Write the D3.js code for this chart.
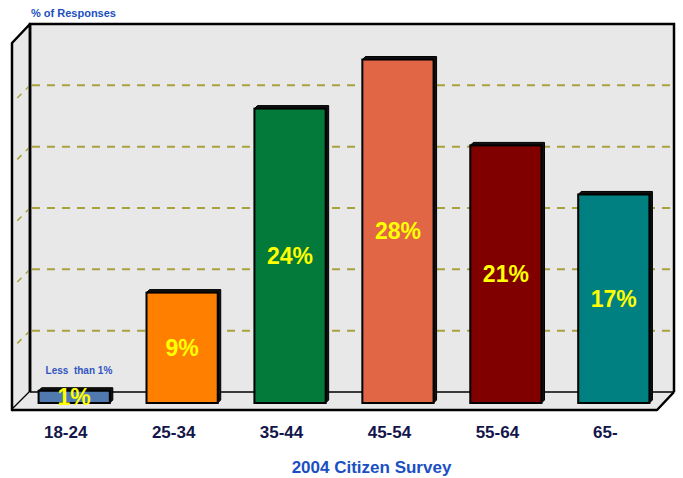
<!DOCTYPE html>
<html>
<head>
<meta charset="utf-8">
<script src="https://cdn.jsdelivr.net/npm/d3@7"></script>
<style>
  html, body { margin: 0; padding: 0; background: #ffffff; }
  svg { display: block; }
  text { font-family: "Liberation Sans", Arial, sans-serif; font-weight: bold; }
</style>
</head>
<body>
<svg id="chart" width="683" height="478"></svg>
<script>
const categories = ["18-24", "25-34", "35-44", "45-54", "55-64", "65-"];
const values = [1, 9, 24, 28, 21, 17];
const valueLabels = ["1%", "9%", "24%", "28%", "21%", "17%"];
const barColors = ["#5079b0", "#ff8000", "#047a3a", "#e06646", "#800000", "#008080"];
const yTicks = [5, 10, 15, 20, 25];
const yDomain = [0, 30];
const yAxisTitle = "% of Responses";
const xAxisTitle = "2004 Citizen Survey";
const noteText = "Less  than 1%";

const svg = d3.select("#chart");

// geometry
const wallLeft = 30, wallRight = 674, wallTop = 24, wallBottom = 392;
const depth = 18;       // box depth offset
const barShift = 11;    // bars sit partly in front of back wall

const y = d3.scaleLinear().domain(yDomain).range([wallBottom, wallTop]);
const x = d3.scaleBand().domain(categories).range([17, 671]).paddingInner(0.34).paddingOuter(0.2);

const wallFill = "#e8e8e8";
const gridColor = "#a8a23c";

// back wall
svg.append("rect")
  .attr("x", wallLeft).attr("y", wallTop)
  .attr("width", wallRight - wallLeft).attr("height", wallBottom - wallTop)
  .attr("fill", wallFill);

// left side wall
svg.append("polygon")
  .attr("points", [[wallLeft - depth, wallTop + depth + 1], [wallLeft, wallTop], [wallLeft, wallBottom], [wallLeft - depth, wallBottom + depth]].map(p => p.join(",")).join(" "))
  .attr("fill", wallFill).attr("stroke", "#000").attr("stroke-width", 2.5).attr("stroke-linejoin", "round");

// floor
svg.append("polygon")
  .attr("points", [[wallLeft - depth, wallBottom + depth], [wallLeft, wallBottom], [wallRight, wallBottom], [wallRight - depth + 1, wallBottom + depth]].map(p => p.join(",")).join(" "))
  .attr("fill", wallFill);

// gridlines on back wall
svg.append("g").selectAll("line").data(yTicks).join("line")
  .attr("x1", wallLeft + 2).attr("x2", wallRight - 4)
  .attr("y1", d => y(d)).attr("y2", d => y(d))
  .attr("stroke", gridColor).attr("stroke-width", 2).attr("stroke-dasharray", "8,7");

// gridlines on side wall
svg.append("g").selectAll("line").data(yTicks).join("line")
  .attr("x1", wallLeft).attr("x2", wallLeft - depth + 2)
  .attr("y1", d => y(d)).attr("y2", d => y(d) + depth - 2)
  .attr("stroke", gridColor).attr("stroke-width", 1.5).attr("stroke-dasharray", "6,6");

// wall borders
svg.append("path")
  .attr("d", `M${wallLeft},${wallBottom}V${wallTop}H${wallRight}V${wallBottom}`)
  .attr("fill", "none").attr("stroke", "#000").attr("stroke-width", 2.5);
svg.append("line")
  .attr("x1", wallLeft).attr("x2", wallRight).attr("y1", wallBottom).attr("y2", wallBottom)
  .attr("stroke", "#000").attr("stroke-width", 1.5);
// floor front edge
svg.append("path")
  .attr("d", `M${wallLeft - depth},${wallBottom + depth}H${wallRight - depth + 1}L${wallRight},${wallBottom}`)
  .attr("fill", "none").attr("stroke", "#000").attr("stroke-width", 2.5).attr("stroke-linejoin", "round");

// bars
const bars = svg.append("g").selectAll("g").data(categories).join("g");
const yb = v => y(v) + barShift;
// depth face
bars.append("polygon")
  .attr("points", (d, i) => {
    const x0 = x(d), x1 = x(d) + x.bandwidth(), t = yb(values[i]), b = yb(0);
    return [[x0, t], [x0 + 3, t - 3], [x1 + 3, t - 3], [x1 + 3, b - 3], [x1, b]].map(p => p.join(",")).join(" ");
  })
  .attr("fill", "#111").attr("stroke", "#000").attr("stroke-width", 1);
bars.append("rect")
  .attr("x", d => x(d)).attr("width", x.bandwidth())
  .attr("y", (d, i) => yb(values[i]))
  .attr("height", (d, i) => yb(0) - yb(values[i]))
  .attr("fill", (d, i) => barColors[i])
  .attr("stroke", "#000").attr("stroke-width", 2);

// value labels
bars.append("text")
  .attr("x", d => x(d) + x.bandwidth() / 2)
  .attr("y", (d, i) => (yb(values[i]) + yb(0)) / 2 + 8)
  .attr("text-anchor", "middle")
  .attr("font-size", 23)
  .attr("fill", "#ffff00")
  .text((d, i) => valueLabels[i]);

// note above smallest bar
svg.append("text")
  .attr("x", x(categories[0]) + 7).attr("y", 374)
  .attr("font-size", 10).attr("fill", "#3356c0")
  .style("white-space", "pre")
  .attr("xml:space", "preserve")
  .text(noteText);

// x axis labels
svg.append("g").selectAll("text").data(categories).join("text")
  .attr("x", d => x(d) + x.bandwidth() / 2 - 8.5)
  .attr("y", 438)
  .attr("text-anchor", "middle")
  .attr("font-size", 17)
  .attr("fill", "#14154a")
  .text(d => d);

// titles
svg.append("text")
  .attr("x", 31).attr("y", 17)
  .attr("font-size", 11).attr("fill", "#2050c0")
  .text(yAxisTitle);
svg.append("text")
  .attr("x", 371.5).attr("y", 473)
  .attr("text-anchor", "middle")
  .attr("font-size", 17).attr("fill", "#1a4fc4")
  .text(xAxisTitle);
</script>
</body>
</html>
